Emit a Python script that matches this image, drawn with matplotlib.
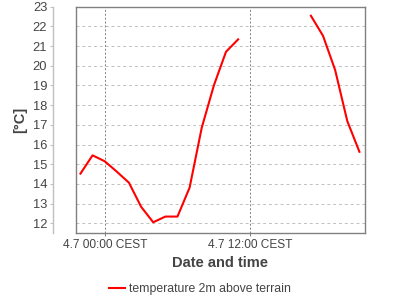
import numpy as np
import matplotlib
matplotlib.use("Agg")
import matplotlib.pyplot as plt
from matplotlib.lines import Line2D

plt.rcParams['font.family'] = ['Liberation Sans', 'DejaVu Sans']

# hours relative to 4.7 00:00 CEST
hours = [-2, -1, 0, 1, 2, 3, 4, 5, 6, 7, 8, 9, 10, 11, 12, 13, 14, 15, 16, 17, 18, 19, 20, 21]
temps = [14.52, 15.45, 15.15, 14.62, 14.06, 12.84, 12.05, 12.34, 12.34, 13.81,
         16.85, 19.0, 20.71, 21.34, np.nan, np.nan, np.nan, np.nan, np.nan,
         22.54, 21.52, 19.78, 17.19, 15.63]
xtick_pos = [0, 12]
xtick_labels = ["4.7 00:00 CEST", "4.7 12:00 CEST"]
yticks = list(range(12, 24))
series_label = "temperature 2m above terrain"

text_c = '#444444'
fig = plt.figure(figsize=(4, 3), dpi=100)
ax = fig.add_axes([75.7/400, 1-233.3/300, (365-75.7)/400, (233.3-6.7)/300])

ln, = ax.plot(hours, temps, color='#ff0000', lw=1.5, label=series_label, zorder=3)
ax.set_xlim(-2.39, 21.46)
ax.set_ylim(11.49, 23.0)

ax.set_yticks(yticks)
ax.set_xticks(xtick_pos)
ax.set_xticklabels(xtick_labels)

for y in yticks:
    ax.axhline(y, color='#c0c0c0', lw=0.7, ls=(0, (3, 3)), zorder=1)
for x in xtick_pos:
    ax.axvline(x, color='#808080', lw=0.7, ls=(0, (2, 2)), zorder=1)

for s in ['top', 'right', 'bottom']:
    ax.spines[s].set_color('#808080')
    ax.spines[s].set_linewidth(1.0)
ax.spines['left'].set_position(('outward', 16))
ax.spines['left'].set_color('#c0c0c0')
ax.spines['left'].set_linewidth(1.0)
ax.add_line(Line2D([0, 0], [0, 1], transform=ax.transAxes, color='#808080', lw=1.0, clip_on=False, zorder=4))

ax.tick_params(axis='y', labelsize=9.3, labelcolor=text_c, color='#c0c0c0', length=2.5, width=0.8, pad=2)
ax.tick_params(axis='x', labelsize=8.6, labelcolor=text_c, color='#808080', length=2, width=0.7, pad=2)

ax.set_xlabel("Date and time", fontsize=10.5, fontweight='bold', color=text_c, labelpad=4)
ax.set_ylabel("[°C]", fontsize=10.5, fontweight='bold', color=text_c, labelpad=4)

fig.legend(handles=[ln], loc='center', bbox_to_anchor=(200/400, 1-289/300), frameon=False,
           fontsize=8.8, labelcolor=text_c, handlelength=1.3, handletextpad=0.4)

fig.savefig("out.png", dpi=100)
